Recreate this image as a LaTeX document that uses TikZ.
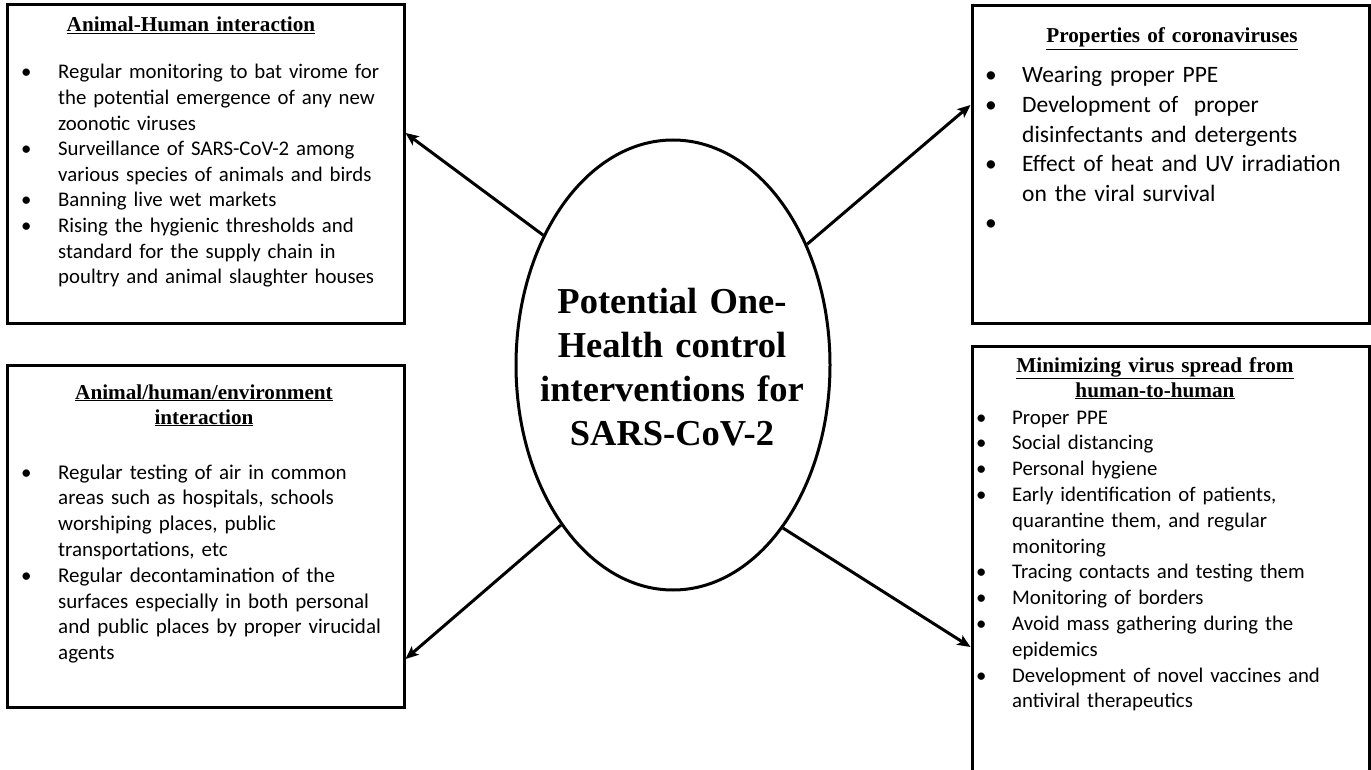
\documentclass[tikz,border=0pt]{standalone}
\usepackage{fontspec}
\newfontfamily\bodyfont{Carlito}
\newfontfamily\headfont{Liberation Serif}
\usetikzlibrary{arrows.meta,shapes.geometric}
\newlength\bind
\newcommand\bl[1]{\noindent\hspace*{-\bind}\makebox[\bind][l]{•}#1\par}
\newcommand\startlist[1]{\setlength\bind{#1}\setlength\leftskip{\bind}}
\tikzset{
  box/.style={draw, line width=3pt, minimum width=397pt, inner sep=0pt},
  body/.style={anchor=base west, inner sep=0pt, text width=390pt, align=left},
  head/.style={anchor=base, inner sep=0pt, text width=360pt, align=center,
    font=\headfont\bfseries\fontsize{21.2}{25}\selectfont},
  conn/.style={line width=3pt, -{Stealth[length=13pt,width=11pt,inset=3pt]}},
}
\begin{document}
\begin{tikzpicture}[x=1pt,y=-1pt]
\useasboundingbox (0,0) rectangle (1371,770);
% boxes
\node[box, minimum height=318pt] (tl) at (205.5,164) {};
\node[box, minimum height=317pt] (tr) at (1170.5,164.5) {};
\node[box, minimum height=342pt] (bl) at (205.5,536) {};
\node[box, minimum height=444pt] (br) at (1170.5,568) {};
% ellipse
\node[ellipse, draw, line width=3pt, minimum width=314pt, minimum height=450pt, inner sep=0pt] (ell) at (673,365) {};
\node[anchor=base, inner sep=0pt, text width=320pt, align=center,
  font=\headfont\bfseries\fontsize{36.5}{44}\selectfont] (ellt) at (672,313)
  {Potential One-\\Health control\\interventions for\\SARS-CoV-2};
% headings
\node[head] (tlh) at (191,32) {\underline{Animal-Human interaction}};
\node[head] (trh) at (1172,43) {\underline{Properties of coronaviruses}};
\node[head] (blh) at (204,399) {\underline{Animal/human/environment}\\\underline{interaction}};
\node[head] (brh) at (1155,372) {\underline{Minimizing virus spread from}\\\underline{human-to-human}};
% bodies
\node[body, font=\bodyfont\fontsize{20.8}{25.6}\selectfont] (tlb) at (21,79) {\startlist{37pt}%
\bl{Regular monitoring to bat virome for\\the potential emergence of any new\\zoonotic viruses}
\bl{Surveillance of SARS-CoV-2 among\\various species of animals and birds}
\bl{Banning live wet markets}
\bl{Rising the hygienic thresholds and\\standard for the supply chain in\\poultry and animal slaughter houses}};
\node[body, font=\bodyfont\fontsize{23.5}{29.6}\selectfont] (trb) at (985,83) {\startlist{37pt}%
\bl{Wearing proper PPE}
\bl{Development of\ \ proper\\disinfectants and detergents}
\bl{Effect of heat and UV irradiation\\on the viral survival}
\bl{\strut}};
\node[body, font=\bodyfont\fontsize{21}{25.8}\selectfont] (blb) at (21,479) {\startlist{37pt}%
\bl{Regular testing of air in common\\areas such as hospitals, schools\\worshiping places, public\\transportations, etc}
\bl{Regular decontamination of the\\surfaces especially in both personal\\and public places by proper virucidal\\agents}};
\node[body, font=\bodyfont\fontsize{20.8}{25.8}\selectfont] (brb) at (976,424) {\startlist{36pt}%
\bl{Proper PPE}
\bl{Social distancing}
\bl{Personal hygiene}
\bl{Early identification of patients,\\quarantine them, and regular\\monitoring}
\bl{Tracing contacts and testing them}
\bl{Monitoring of borders}
\bl{Avoid mass gathering during the\\epidemics}
\bl{Development of novel vaccines and\\antiviral therapeutics}};
% connectors
\draw[conn] (ell.135.2) -- ([yshift=31pt]tl.east);
\draw[conn] (ell.42.8) -- ([yshift=59.5pt]tr.west);
\draw[conn] (ell.235.2) -- ([yshift=-123pt]bl.east);
\draw[conn] (ell.304.4) -- ([yshift=-79pt]br.west);
\end{tikzpicture}
\end{document}
